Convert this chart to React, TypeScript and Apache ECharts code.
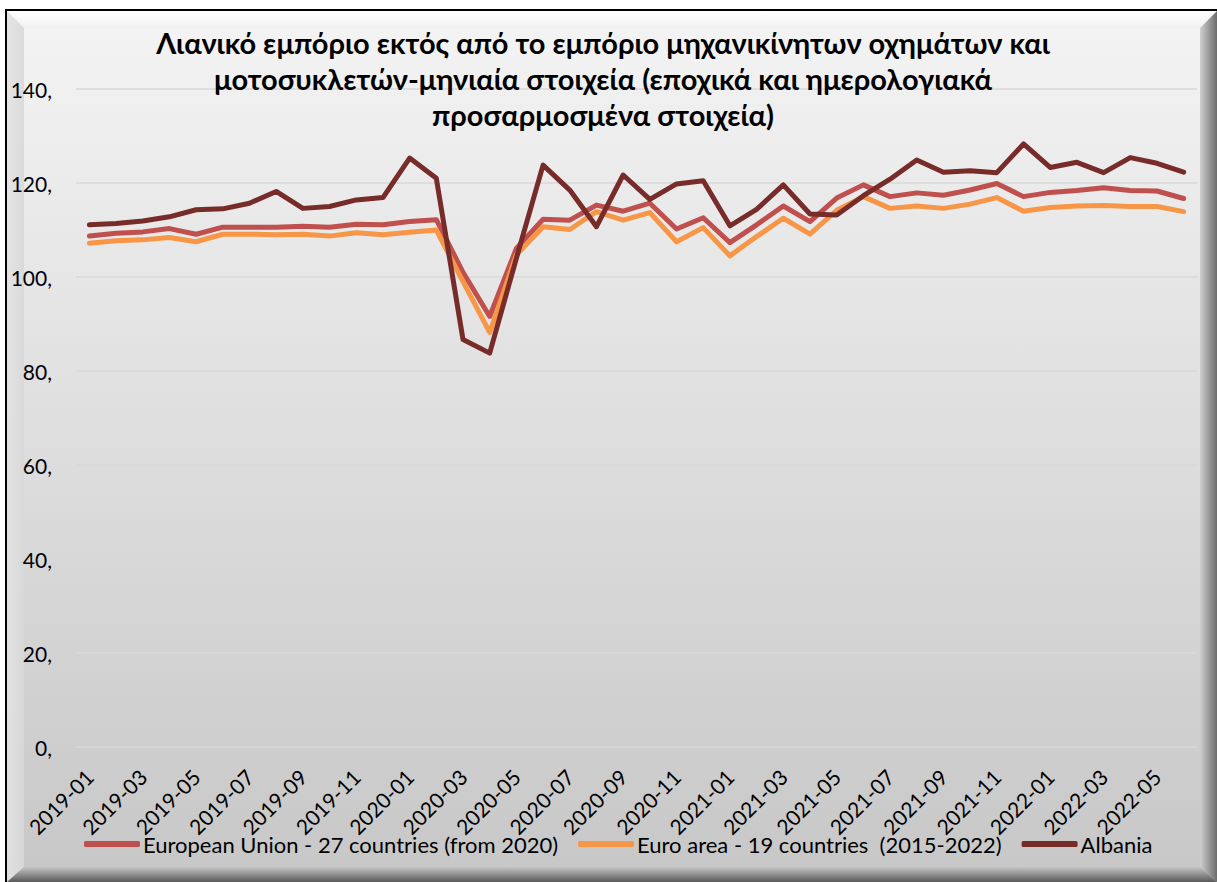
import React, { useEffect, useRef } from "react";
import * as echarts from "echarts";

const months = [
  "2019-01", "2019-02", "2019-03", "2019-04", "2019-05", "2019-06", "2019-07", "2019-08", "2019-09", "2019-10", "2019-11", "2019-12",
  "2020-01", "2020-02", "2020-03", "2020-04", "2020-05", "2020-06", "2020-07", "2020-08", "2020-09", "2020-10", "2020-11", "2020-12",
  "2021-01", "2021-02", "2021-03", "2021-04", "2021-05", "2021-06", "2021-07", "2021-08", "2021-09", "2021-10", "2021-11", "2021-12",
  "2022-01", "2022-02", "2022-03", "2022-04", "2022-05", "2022-06",
];

const euValues = [
  108.7, 109.3, 109.6, 110.3, 109.1, 110.6, 110.6, 110.6, 110.8, 110.6, 111.2, 111.1,
  111.8, 112.2, 101.0, 91.6, 106.1, 112.3, 112.1, 115.3, 114.0, 115.7, 110.2, 112.6,
  107.3, 111.1, 115.1, 111.8, 116.8, 119.6, 117.1, 117.9, 117.4, 118.5, 119.9, 117.1,
  118.0, 118.4, 119.0, 118.4, 118.3, 116.7,
];

const euroAreaValues = [
  107.2, 107.7, 107.9, 108.4, 107.5, 109.1, 109.1, 109.0, 109.1, 108.7, 109.4, 109.0,
  109.5, 110.0, 99.0, 88.2, 104.7, 110.7, 110.1, 113.9, 112.1, 113.7, 107.5, 110.5,
  104.5, 108.6, 112.5, 109.1, 114.2, 117.1, 114.6, 115.1, 114.6, 115.5, 116.9, 114.0,
  114.8, 115.1, 115.2, 115.0, 115.0, 113.9,
];

const albaniaValues = [
  111.1, 111.4, 111.9, 112.8, 114.3, 114.5, 115.7, 118.2, 114.6, 115.0, 116.4, 116.9,
  125.3, 121.0, 86.7, 83.8, 104.0, 123.8, 118.5, 110.7, 121.7, 116.5, 119.8, 120.5,
  110.9, 114.4, 119.6, 113.4, 113.2, 117.3, 120.8, 124.9, 122.3, 122.6, 122.2, 128.3,
  123.3, 124.4, 122.2, 125.4, 124.2, 122.3,
];

const seriesNames = [
  "European Union - 27 countries (from 2020)",
  "Euro area - 19 countries  (2015-2022)",
  "Albania",
];
const seriesColors = ["#C0504D", "#F79646", "#772C2A"];

const titleLines = [
  "Λιανικό εμπόριο εκτός από το εμπόριο μηχανικίνητων οχημάτων και",
  "μοτοσυκλετών-μηνιαία στοιχεία (εποχικά και ημερολογιακά",
  "προσαρμοσμένα στοιχεία)",
];

const FONT = "Lato, 'Noto Sans', sans-serif";

export default function App() {
  const ref = useRef<HTMLDivElement>(null);

  useEffect(() => {
    if (!ref.current) return;
    const chart = echarts.init(ref.current, null, { renderer: "svg" });
    const W = 1217;
    const H = 882;
    const dataSets = [euValues, euroAreaValues, albaniaValues];
    chart.setOption({
      animation: false,
      backgroundColor: "#ffffff",
      textStyle: { fontFamily: FONT },
      title: {
        text: titleLines.join("\n"),
        left: 598,
        top: 19,
        textAlign: "center",
        textStyle: {
          fontFamily: FONT,
          fontSize: 29,
          fontWeight: "bold",
          color: "#000000",
          lineHeight: 36,
        },
      },
      legend: {
        bottom: 22,
        left: 79,
        icon: "roundRect",
        itemWidth: 56,
        itemHeight: 6,
        itemGap: 20,
        textStyle: { fontFamily: FONT, fontSize: 22, color: "#000000", padding: [0, 0, 0, -2] },
        data: seriesNames,
      },
      grid: { left: 76, right: 20, top: 89, bottom: 135, containLabel: false },
      xAxis: {
        type: "category",
        data: months,
        boundaryGap: true,
        axisLine: { show: false },
        axisTick: { show: false },
        axisLabel: {
          interval: 1,
          rotate: 45,
          margin: 26,
          fontFamily: FONT,
          fontSize: 21,
          color: "#000000",
        },
      },
      yAxis: {
        type: "value",
        min: 0,
        max: 140,
        interval: 20,
        axisLine: { show: false },
        axisTick: { show: false },
        splitLine: { lineStyle: { color: "#d9d9d9", width: 1.5 } },
        axisLabel: {
          margin: 24,
          fontFamily: FONT,
          fontSize: 21,
          color: "#000000",
          formatter: (v: number) => `${v},`,
        },
      },
      graphic: [
        {
          type: "rect",
          z: -20,
          shape: { x: 6, y: 10, width: W + 10, height: H + 10 },
          style: {
            fill: new echarts.graphic.LinearGradient(0, 0, 0, 1, [
              { offset: 0, color: "#f4f4f4" },
              { offset: 1, color: "#c6c6c6" },
            ]),
            stroke: "#000000",
            lineWidth: 2,
          },
        },
        {
          type: "polygon",
          z: -19,
          shape: { points: [[7, 11], [W, 11], [W - 17, 28], [24, 28]] },
          style: {
            fill: new echarts.graphic.LinearGradient(0, 0, 0, 1, [
              { offset: 0, color: "#ffffff" },
              { offset: 1, color: "#f1f1f1" },
            ]),
          },
        },
        {
          type: "polygon",
          z: -19,
          shape: { points: [[7, 11], [24, 28], [24, H - 15], [7, H]] },
          style: {
            fill: new echarts.graphic.LinearGradient(0, 0, 1, 0, [
              { offset: 0, color: "#e4e4e4" },
              { offset: 1, color: "#d8d8d8" },
            ]),
            opacity: 0.9,
          },
        },
        {
          type: "polygon",
          z: -18,
          shape: { points: [[W - 17, 28], [W, 11], [W, H], [W - 17, H - 15]] },
          style: {
            fill: new echarts.graphic.LinearGradient(0, 0, 1, 0, [
              { offset: 0, color: "#cfcfcf" },
              { offset: 1, color: "#6c6c6c" },
            ]),
          },
        },
        {
          type: "polygon",
          z: -17,
          shape: { points: [[7, H], [24, H - 15], [W - 17, H - 15], [W, H]] },
          style: {
            fill: new echarts.graphic.LinearGradient(0, 0, 0, 1, [
              { offset: 0, color: "#c4c4c4" },
              { offset: 1, color: "#5a5a5a" },
            ]),
          },
        },
      ],
      series: dataSets.map((d, i) => ({
        name: seriesNames[i],
        type: "line",
        data: d,
        symbol: "none",
        showSymbol: false,
        smooth: false,
        z: 3 + i,
        lineStyle: { color: seriesColors[i], width: 5, cap: "round", join: "round" },
        itemStyle: { color: seriesColors[i] },
        emphasis: { disabled: true },
      })),
    });
    return () => chart.dispose();
  }, []);

  return (
    <div style={{ position: "absolute", left: 0, top: 0, width: 1217, height: 882, overflow: "hidden", background: "#fff" }}>
      <div ref={ref} style={{ width: 1217, height: 882 }} />
    </div>
  );
}
